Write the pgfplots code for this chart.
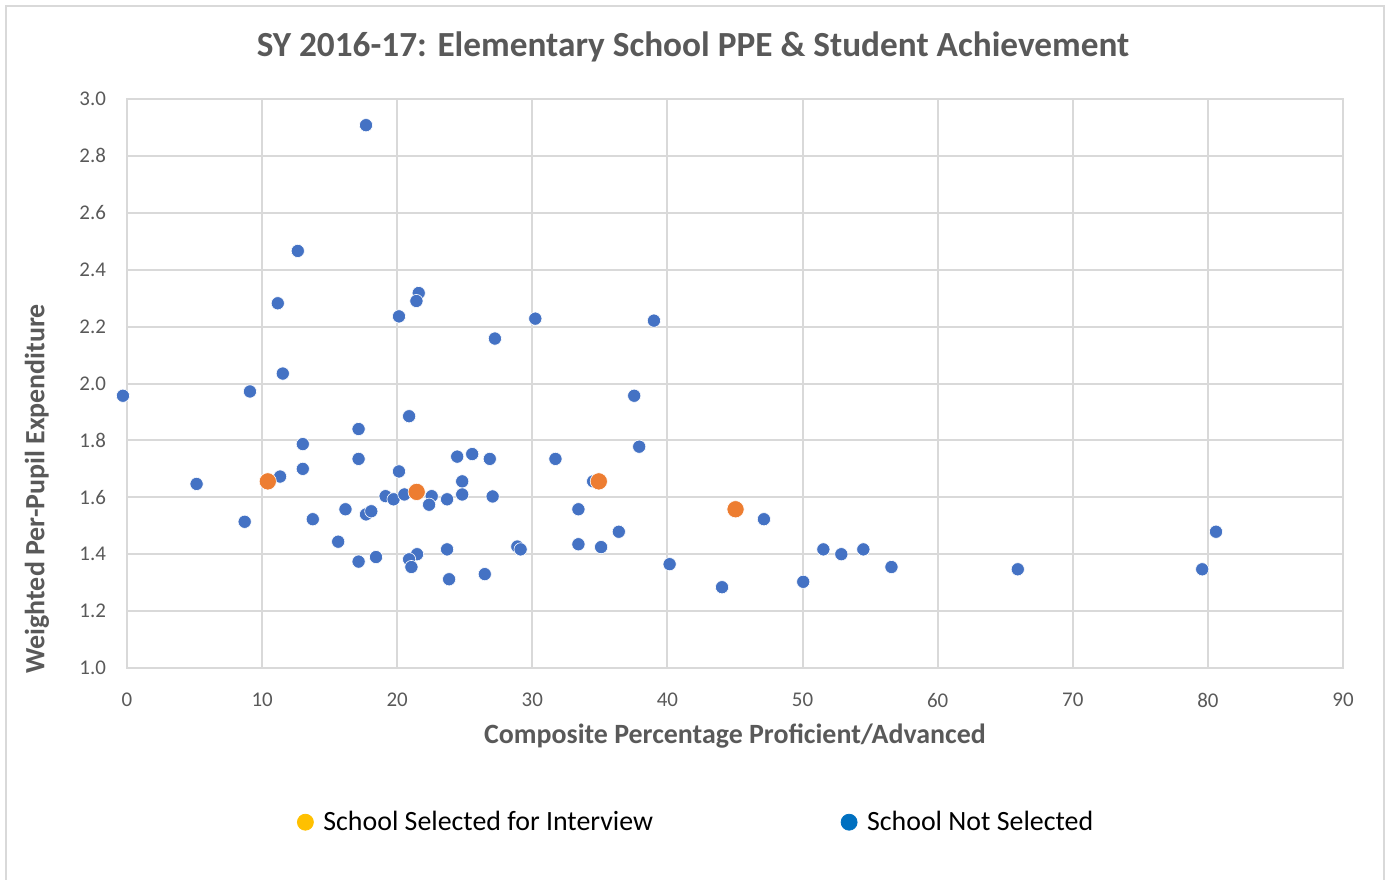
\documentclass[border=0pt]{standalone}
\usepackage{fontspec}
\setmainfont{Carlito}
\usepackage{pgfplots}
\pgfplotsset{compat=1.18}
\definecolor{ptblue}{HTML}{4472C4}
\definecolor{ptorange}{HTML}{ED7D31}
\definecolor{lgyellow}{HTML}{FFC000}
\definecolor{lgblue}{HTML}{0070C0}
\definecolor{gridgray}{HTML}{D9D9D9}
\definecolor{txtgray}{HTML}{595959}
\begin{document}
\begin{tikzpicture}
\path[use as bounding box] (0bp,0bp) rectangle (695bp,-440bp);
\draw[gridgray, line width=0.8bp] (3bp,-441bp) -- (3bp,-3bp) -- (692bp,-3bp) -- (692bp,-441bp);
\node[font=\fontsize{17.7}{21}\selectfont\bfseries, text=txtgray] at (346.5bp,-23.5bp) {SY 2016-17: Elementary School PPE \& Student Achievement};
\begin{axis}[
  at={(63.5bp,-334bp)}, anchor=south west,
  width=608bp, height=284.5bp, scale only axis,
  xmin=0, xmax=90, ymin=1, ymax=3,
  xtick={0,10,20,30,40,50,60,70,80,90},
  ytick={1.0,1.2,1.4,1.6,1.8,2.0,2.2,2.4,2.6,2.8,3.0},
  yticklabel style={/pgf/number format/fixed, /pgf/number format/fixed zerofill, /pgf/number format/precision=1, xshift=-7bp},
  /pgf/number format/assume math mode=true,
  grid=major,
  major grid style={gridgray, line width=1bp},
  axis line style={gridgray, line width=1bp},
  tick style={draw=none},
  major tick length=0pt,
  ticklabel style={font=\fontsize{10.5}{12}\selectfont, text=txtgray},
  xticklabel style={yshift=-9bp},
  xlabel={Composite Percentage Proficient/Advanced},
  ylabel={Weighted Per-Pupil Expenditure},
  label style={font=\fontsize{14}{16}\selectfont\bfseries, text=txtgray},
  xlabel style={at={(axis description cs:0.5,-0.1195)}, anchor=center},
  ylabel style={at={(axis description cs:-0.074,0.315)}, anchor=center},
  clip=false,
  legend columns=2,
  legend style={at={(axis description cs:0.469,-0.271)}, anchor=center, draw=none, fill=none,
    font=\fontsize{14}{16}\selectfont, text=black,
    /tikz/every even column/.append style={column sep=92bp}},
  legend cell align=left,
]
\addplot[only marks, mark=*, mark size=3.3bp, draw=white, line width=0.3bp, fill=ptblue, forget plot] coordinates {
(-0.30,1.957) (17.69,2.908) (12.64,2.466) (11.16,2.282) (21.59,2.318) (21.42,2.290)
(20.13,2.236) (30.22,2.228) (39.00,2.221) (27.23,2.158) (11.53,2.035) (9.10,1.972)
(37.54,1.957) (20.88,1.885) (17.14,1.840) (13.01,1.787) (37.91,1.778) (17.14,1.735)
(31.71,1.735) (24.44,1.743) (25.55,1.752) (26.85,1.735) (13.01,1.700) (20.13,1.691)
(11.33,1.673) (5.15,1.647) (24.81,1.656) (34.50,1.656) (19.14,1.604) (19.73,1.593)
(20.53,1.610) (22.55,1.604) (22.36,1.574) (23.69,1.593) (24.81,1.610) (27.06,1.603)
(16.17,1.558) (17.69,1.540) (18.08,1.551) (8.71,1.514) (13.75,1.523) (33.41,1.558)
(47.14,1.523) (36.40,1.479) (80.60,1.479) (15.63,1.444) (33.41,1.435) (35.09,1.425)
(28.89,1.427) (29.13,1.417) (23.69,1.417) (51.54,1.417) (52.87,1.400) (54.50,1.417)
(21.47,1.400) (20.88,1.382) (18.43,1.390) (17.14,1.374) (21.05,1.355) (40.16,1.365)
(56.58,1.355) (65.93,1.347) (79.58,1.347) (26.48,1.330) (23.84,1.312) (50.05,1.303)
(44.04,1.284)
};
\addplot[only marks, mark=*, mark size=4.3bp, draw=white, line width=0.3bp, fill=ptorange, forget plot] coordinates {
(10.42,1.656) (21.44,1.619) (34.92,1.656) (45.04,1.558)
};
\addlegendimage{only marks, mark=*, mark size=4bp, draw=lgyellow, fill=lgyellow}
\addlegendentry{\hspace{3bp}School Selected for Interview}
\addlegendimage{only marks, mark=*, mark size=4bp, draw=lgblue, fill=lgblue}
\addlegendentry{\hspace{3bp}School Not Selected}
\end{axis}
\end{tikzpicture}
\end{document}
